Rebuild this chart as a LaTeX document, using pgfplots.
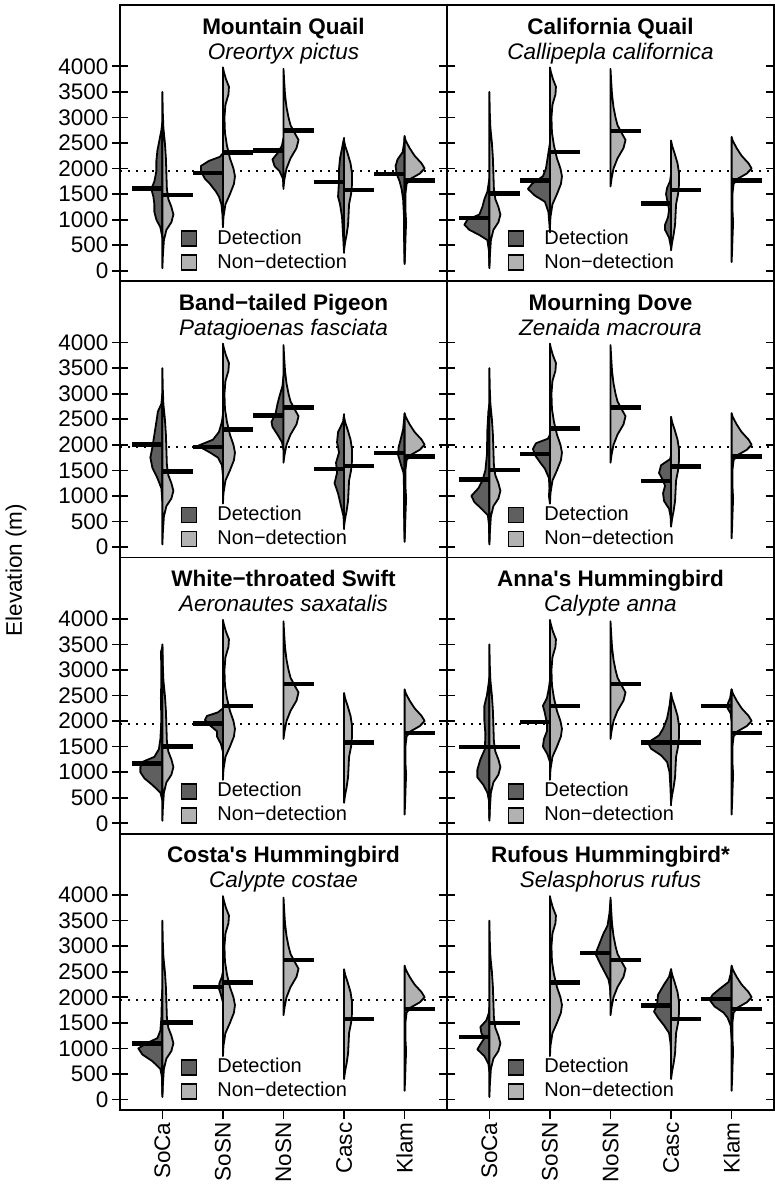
\documentclass[border=0pt]{standalone}
\usepackage{fontspec}
\setmainfont{Liberation Sans}
\newfontfamily\plain{Liberation Sans}
\usepackage{pgfplots}
\usepackage{pgfplotstable}
\pgfplotsset{compat=1.18}
\definecolor{dk}{HTML}{5F5F5F}
\definecolor{lt}{HTML}{B2B2B2}
\newcommand{\fs}{\fontsize{22.5bp}{27bp}\selectfont}
\newcommand{\fl}{\fontsize{20bp}{24bp}\selectfont}
% ---------- non-detection (shared per region) : elevation e, half-width w (px)
\pgfplotstableread[row sep=\\]{e w\\ 50 0\\ 300 0.5\\ 600 1.5\\ 800 4\\ 950 9\\ 1100 11\\ 1250 9\\ 1400 6\\ 1600 4.5\\ 1900 4\\ 2200 3.5\\ 2500 2.5\\ 2800 1\\ 3100 0.4\\ 3500 0\\}\ndA
\pgfplotstableread[row sep=\\]{e w\\ 850 0\\ 1050 0.5\\ 1300 2.5\\ 1500 7\\ 1700 11\\ 1850 12\\ 2000 10.5\\ 2200 7\\ 2450 4\\ 2700 2\\ 3000 1.5\\ 3250 2.5\\ 3450 5.5\\ 3600 6\\ 3750 3\\ 3900 0.8\\ 3980 0\\}\ndB
\pgfplotstableread[row sep=\\]{e w\\ 1650 0\\ 1800 1\\ 2000 3\\ 2200 7\\ 2400 13\\ 2560 15\\ 2700 11\\ 2850 7\\ 3000 5\\ 3200 3\\ 3450 1.5\\ 3700 0.7\\ 3950 0\\}\ndC
\pgfplotstableread[row sep=\\]{e w\\ 400 0\\ 550 1\\ 700 2.5\\ 900 4\\ 1100 4.5\\ 1300 5\\ 1500 7\\ 1700 8\\ 1900 8\\ 2100 6.5\\ 2300 3.5\\ 2450 1\\ 2550 0\\}\ndD
\pgfplotstableread[row sep=\\]{e w\\ 170 0\\ 400 0.5\\ 700 1\\ 950 1.5\\ 1200 0.8\\ 1500 0.8\\ 1700 2\\ 1800 6\\ 1900 15\\ 2000 20\\ 2100 17\\ 2250 10\\ 2400 5\\ 2550 1\\ 2620 0\\}\ndE
% ---------- detection
\pgfplotstableread[row sep=\\]{e w\\ 650 0\\ 850 2\\ 1000 6\\ 1150 8\\ 1300 8\\ 1450 9\\ 1600 11\\ 1750 8\\ 1950 6\\ 2150 6\\ 2350 5\\ 2550 3\\ 2750 1\\ 2900 0\\}\mqA
\pgfplotstableread[row sep=\\]{e w\\ 880 0\\ 1100 0.5\\ 1300 1.5\\ 1450 4\\ 1550 7\\ 1700 13\\ 1800 18\\ 1950 22\\ 2050 22\\ 2150 14\\ 2230 3\\ 2300 0\\}\mqB
\pgfplotstableread[row sep=\\]{e w\\ 1600 0\\ 1800 0.5\\ 1950 4\\ 2050 9\\ 2180 11\\ 2300 6\\ 2450 1.5\\ 2600 0\\}\mqC
\pgfplotstableread[row sep=\\]{e w\\ 350 0\\ 700 1\\ 1050 2\\ 1300 4\\ 1450 6\\ 1600 5.5\\ 1800 5\\ 2000 5\\ 2200 4\\ 2400 2\\ 2600 0\\}\mqD
\pgfplotstableread[row sep=\\]{e w\\ 130 0\\ 600 0.5\\ 1100 0.7\\ 1400 1.5\\ 1600 3\\ 1750 5\\ 1900 8\\ 2050 9\\ 2180 7\\ 2320 2\\ 2500 0.5\\ 2640 0\\}\mqE
\pgfplotstableread[row sep=\\]{e w\\ 100 0\\ 400 0.5\\ 600 2\\ 700 10\\ 800 20\\ 900 25\\ 1000 22\\ 1100 10\\ 1250 7\\ 1400 5\\ 1550 2\\ 1800 0\\}\cqA
\pgfplotstableread[row sep=\\]{e w\\ 750 0\\ 900 0.5\\ 1150 1.5\\ 1350 5\\ 1470 15\\ 1600 22\\ 1700 18\\ 1850 7\\ 2000 4\\ 2250 2\\ 2500 0\\}\cqB
\pgfplotstableread[row sep=\\]{e w\\ 450 0\\ 650 2\\ 800 6\\ 900 6\\ 1050 3\\ 1200 2\\ 1350 3.5\\ 1500 5\\ 1620 4\\ 1750 1\\ 1900 0\\}\cqD
\pgfplotstableread[row sep=\\]{e w\\ 900 0\\ 1150 1\\ 1350 5\\ 1550 10\\ 1750 12\\ 1950 10\\ 2200 8\\ 2450 6\\ 2650 4.5\\ 2800 1\\ 3000 0\\}\btA
\pgfplotstableread[row sep=\\]{e w\\ 1400 0\\ 1600 1\\ 1750 5\\ 1850 13\\ 1980 25\\ 2100 10\\ 2250 4\\ 2450 1\\ 2600 0\\}\btB
\pgfplotstableread[row sep=\\]{e w\\ 1900 0\\ 2050 1.5\\ 2200 6\\ 2350 11\\ 2450 12\\ 2600 8\\ 2800 6\\ 2950 4\\ 3150 1\\ 3350 0\\}\btC
\pgfplotstableread[row sep=\\]{e w\\ 350 0\\ 600 0.5\\ 800 3\\ 1050 6\\ 1250 9.5\\ 1450 7\\ 1650 8\\ 1850 5\\ 2050 7\\ 2250 6\\ 2450 1\\ 2600 0\\}\btD
\pgfplotstableread[row sep=\\]{e w\\ 100 0\\ 600 0.5\\ 1200 0.7\\ 1450 1\\ 1600 3.5\\ 1800 6.5\\ 1950 6\\ 2100 4\\ 2300 1.5\\ 2600 0\\}\btE
\pgfplotstableread[row sep=\\]{e w\\ 100 0\\ 450 0.5\\ 620 1.5\\ 750 8\\ 880 15\\ 1000 18\\ 1150 11\\ 1300 7\\ 1500 4\\ 1800 2.5\\ 2300 2\\ 2650 1\\ 2800 0\\}\mdA
\pgfplotstableread[row sep=\\]{e w\\ 850 0\\ 1000 1\\ 1150 0.5\\ 1350 1\\ 1530 5\\ 1660 10\\ 1800 15\\ 1920 17\\ 2030 14\\ 2120 2\\ 2200 0\\}\mdB
\pgfplotstableread[row sep=\\]{e w\\ 400 0\\ 600 0.5\\ 750 2\\ 900 7\\ 1050 8\\ 1200 6\\ 1300 8\\ 1450 12\\ 1600 10\\ 1720 1\\ 1800 0\\}\mdD
\pgfplotstableread[row sep=\\]{e w\\ 450 0\\ 600 2\\ 750 10\\ 880 18\\ 1000 22\\ 1100 22\\ 1200 20\\ 1300 8\\ 1450 3.5\\ 1650 2\\ 2000 1\\ 2450 1.5\\ 2800 1\\ 3050 1\\ 3350 1.5\\ 3450 0\\}\wsA
\pgfplotstableread[row sep=\\]{e w\\ 1400 0\\ 1550 2\\ 1700 6\\ 1800 6\\ 1900 12\\ 2020 18\\ 2100 16\\ 2170 5\\ 2250 0\\}\wsB
\pgfplotstableread[row sep=\\]{e w\\ 100 0\\ 450 0.5\\ 600 2\\ 750 6\\ 900 12\\ 1050 12\\ 1250 9\\ 1450 4.5\\ 1750 4\\ 2000 5\\ 2300 5\\ 2500 2.5\\ 2700 1\\ 2850 0\\}\ahA
\pgfplotstableread[row sep=\\]{e w\\ 1200 0\\ 1350 2.5\\ 1500 7\\ 1650 6\\ 1800 3\\ 1950 3\\ 2150 5\\ 2300 7\\ 2450 3\\ 2650 1\\ 2800 0\\}\ahB
\pgfplotstableread[row sep=\\]{e w\\ 350 0\\ 650 0.5\\ 1000 1.5\\ 1200 4\\ 1330 10\\ 1460 20\\ 1580 23\\ 1720 12\\ 1850 8\\ 2050 4\\ 2300 1.5\\ 2550 0\\}\ahD
\pgfplotstableread[row sep=\\]{e w\\ 2000 0\\ 2150 1\\ 2250 4\\ 2330 4\\ 2450 1.5\\ 2620 0\\}\ahE
\pgfplotstableread[row sep=\\]{e w\\ 100 0\\ 450 0.5\\ 600 2\\ 750 10\\ 880 20\\ 1000 24\\ 1100 16\\ 1200 5\\ 1350 2\\ 1600 1\\ 2000 0.5\\ 2150 0\\}\chA
\pgfplotstableread[row sep=\\]{e w\\ 1900 0\\ 2050 2\\ 2170 4\\ 2280 3.5\\ 2400 1\\ 2500 0\\}\chB
\pgfplotstableread[row sep=\\]{e w\\ 550 0\\ 700 1\\ 850 5\\ 980 12\\ 1080 9\\ 1200 5\\ 1300 8\\ 1420 9\\ 1550 3\\ 1700 0.5\\ 1800 0\\}\rhA
\pgfplotstableread[row sep=\\]{e w\\ 2000 0\\ 2200 0.5\\ 2350 2\\ 2500 6\\ 2650 10\\ 2850 15\\ 3050 11\\ 3250 7\\ 3400 3\\ 3650 1\\ 3900 0\\}\rhC
\pgfplotstableread[row sep=\\]{e w\\ 900 0\\ 1100 0.5\\ 1300 2\\ 1450 7\\ 1600 13\\ 1720 17\\ 1850 14\\ 2050 13\\ 2250 7\\ 2400 2\\ 2550 0\\}\rhD
\pgfplotstableread[row sep=\\]{e w\\ 1200 0\\ 1450 1\\ 1600 4\\ 1700 8\\ 1820 17\\ 1950 22\\ 2050 19\\ 2180 11\\ 2300 3\\ 2450 1\\ 2600 0\\}\rhE

\newcommand{\vD}[2]{\addplot[fill=dk, draw=black, line width=1.8bp, line join=round, forget plot] table[x expr={#1-\thisrow{w}/60.5}, y=e]{#2} -- cycle;}
\newcommand{\vN}[2]{\addplot[fill=lt, draw=black, line width=1.8bp, line join=round, forget plot] table[x expr={#1+\thisrow{w}/60.5}, y=e]{#2} -- cycle;}
\newcommand{\med}[3]{\addplot[black, line width=4.5bp, forget plot] coordinates {(#1,#3) (#2,#3)};}
\newcommand{\dotl}{\addplot[black, line width=1.8bp, dash pattern=on 1.8bp off 6.2bp, forget plot] coordinates {(0.3,1950) (5.7,1950)};}
\newcommand{\leg}{\addlegendimage{fill=dk}\addlegendentry{Detection}\addlegendimage{fill=lt}\addlegendentry{Non−detection}}
\newcommand{\ttl}[2]{\node[font=\fs\bfseries, anchor=base, yshift=-29bp] at (rel axis cs:0.5,1) {#1};
\node[font=\fs\itshape, anchor=base, yshift=-54bp] at (rel axis cs:0.5,1) {#2};}

\pgfplotsset{
 panel/.style={scale only axis, width=327bp, height=276.25bp, anchor=south west,
  xmin=0.3, xmax=5.7, ymin=-205, ymax=5200, xtick=\empty,
  ytick={0,500,1000,1500,2000,2500,3000,3500,4000},
  yticklabels={0,500,1000,1500,2000,2500,3000,3500,4000},
  ytick pos=both, tick align=center, major tick length=16bp,
  axis line style={line width=1.9bp}, ytick style={line width=1.7bp, black},
  yticklabel style={font=\fs},
  legend image code/.code={\draw[##1, line width=1.6bp] (0bp,-7.5bp) rectangle (15bp,7.5bp);},
  legend style={at={(axis cs:1.30,817)}, anchor=north west, draw=none, fill=none,
   font=\fl, inner sep=0pt, row sep=5bp,
   nodes={inner sep=0pt, text height=15bp, text depth=4bp},
   /tikz/every odd column/.append style={column sep=20bp}},
  legend cell align=left},
 rpanel/.style={panel, yticklabels={}},
 xt/.style={scale only axis, width=327bp, height=276.25bp, anchor=south west,
  xmin=0.3, xmax=5.7, ymin=0, ymax=1, axis line style={draw=none}, ytick=\empty,
  xtick={1,2,3,4,5}, xticklabels={SoCa,SoSN,NoSN,Casc,Klam}, xtick pos=left,
  tick align=outside, major tick length=9bp, xtick style={line width=1.7bp, black},
  xticklabel style={rotate=90, anchor=east, font=\fs}},
}

\begin{document}
\begin{tikzpicture}
\useasboundingbox (0,0) rectangle (775bp,-1192bp);
\node[rotate=90, font=\fs, anchor=center] at (16bp,-570bp) {Elevation (m)};
% ---- Mountain Quail
\begin{axis}[panel, at={(120bp,-281.25bp)}]
\dotl
\vD{1}{\mqA}\vN{1}{\ndA}\vD{2}{\mqB}\vN{2}{\ndB}\vD{3}{\mqC}\vN{3}{\ndC}\vD{4}{\mqD}\vN{4}{\ndD}\vD{5}{\mqE}\vN{5}{\ndE}
\med{0.5}{1}{1610}\med{1}{1.5}{1480}\med{1.5}{2}{1910}\med{2}{2.5}{2310}\med{2.5}{3}{2350}\med{3}{3.5}{2740}\med{3.5}{4}{1740}\med{4}{4.5}{1580}\med{4.5}{5}{1890}\med{5}{5.5}{1770}
\leg
\ttl{Mountain Quail}{Oreortyx pictus}
\end{axis}
% ---- California Quail
\begin{axis}[rpanel, at={(447bp,-281.25bp)}]
\dotl
\vD{1}{\cqA}\vN{1}{\ndA}\vD{2}{\cqB}\vN{2}{\ndB}\vN{3}{\ndC}\vD{4}{\cqD}\vN{4}{\ndD}\vN{5}{\ndE}
\med{0.5}{1}{1030}\med{1}{1.5}{1510}\med{1.5}{2}{1770}\med{2}{2.5}{2320}\med{3}{3.5}{2730}\med{3.5}{4}{1320}\med{4}{4.5}{1580}\med{5}{5.5}{1770}
\leg
\ttl{California Quail}{Callipepla californica}
\end{axis}
% ---- Band-tailed Pigeon
\begin{axis}[panel, at={(120bp,-557.5bp)}]
\dotl
\vD{1}{\btA}\vN{1}{\ndA}\vD{2}{\btB}\vN{2}{\ndB}\vD{3}{\btC}\vN{3}{\ndC}\vD{4}{\btD}\vN{4}{\ndD}\vD{5}{\btE}\vN{5}{\ndE}
\med{0.5}{1}{2010}\med{1}{1.5}{1480}\med{1.5}{2}{1960}\med{2}{2.5}{2300}\med{2.5}{3}{2570}\med{3}{3.5}{2730}\med{3.5}{4}{1530}\med{4}{4.5}{1590}\med{4.5}{5}{1840}\med{5}{5.5}{1770}
\leg
\ttl{Band−tailed Pigeon}{Patagioenas fasciata}
\end{axis}
% ---- Mourning Dove
\begin{axis}[rpanel, at={(447bp,-557.5bp)}]
\dotl
\vD{1}{\mdA}\vN{1}{\ndA}\vD{2}{\mdB}\vN{2}{\ndB}\vN{3}{\ndC}\vD{4}{\mdD}\vN{4}{\ndD}\vN{5}{\ndE}
\med{0.5}{1}{1320}\med{1}{1.5}{1510}\med{1.5}{2}{1820}\med{2}{2.5}{2320}\med{3}{3.5}{2730}\med{3.5}{4}{1290}\med{4}{4.5}{1580}\med{5}{5.5}{1770}
\leg
\ttl{Mourning Dove}{Zenaida macroura}
\end{axis}
% ---- White-throated Swift
\begin{axis}[panel, at={(120bp,-833.75bp)}]
\dotl
\vD{1}{\wsA}\vN{1}{\ndA}\vD{2}{\wsB}\vN{2}{\ndB}\vN{3}{\ndC}\vN{4}{\ndD}\vN{5}{\ndE}
\med{0.5}{1}{1170}\med{1}{1.5}{1500}\med{1.5}{2}{1950}\med{2}{2.5}{2290}\med{3}{3.5}{2730}\med{4}{4.5}{1580}\med{5}{5.5}{1770}
\leg
\ttl{White−throated Swift}{Aeronautes saxatalis}
\end{axis}
% ---- Anna's Hummingbird
\begin{axis}[rpanel, at={(447bp,-833.75bp)}]
\dotl
\vD{1}{\ahA}\vN{1}{\ndA}\vD{2}{\ahB}\vN{2}{\ndB}\vN{3}{\ndC}\vD{4}{\ahD}\vN{4}{\ndD}\vD{5}{\ahE}\vN{5}{\ndE}
\med{0.5}{1}{1490}\med{1}{1.5}{1490}\med{1.5}{2}{1980}\med{2}{2.5}{2290}\med{3}{3.5}{2730}\med{3.5}{4}{1580}\med{4}{4.5}{1580}\med{4.5}{5}{2290}\med{5}{5.5}{1770}
\leg
\ttl{Anna{\plain '}s Hummingbird}{Calypte anna}
\end{axis}
% ---- Costa's Hummingbird
\begin{axis}[panel, at={(120bp,-1110bp)}]
\dotl
\vD{1}{\chA}\vN{1}{\ndA}\vD{2}{\chB}\vN{2}{\ndB}\vN{3}{\ndC}\vN{4}{\ndD}\vN{5}{\ndE}
\med{0.5}{1}{1100}\med{1}{1.5}{1510}\med{1.5}{2}{2200}\med{2}{2.5}{2290}\med{3}{3.5}{2730}\med{4}{4.5}{1580}\med{5}{5.5}{1770}
\leg
\ttl{Costa{\plain '}s Hummingbird}{Calypte costae}
\end{axis}
\begin{axis}[xt, at={(120bp,-1110bp)}]
\addplot[draw=none] coordinates {(1,0.5)};
\end{axis}
% ---- Rufous Hummingbird
\begin{axis}[rpanel, at={(447bp,-1110bp)}]
\dotl
\vD{1}{\rhA}\vN{1}{\ndA}\vN{2}{\ndB}\vD{3}{\rhC}\vN{3}{\ndC}\vD{4}{\rhD}\vN{4}{\ndD}\vD{5}{\rhE}\vN{5}{\ndE}
\med{0.5}{1}{1220}\med{1}{1.5}{1500}\med{2}{2.5}{2290}\med{2.5}{3}{2870}\med{3}{3.5}{2730}\med{3.5}{4}{1840}\med{4}{4.5}{1580}\med{4.5}{5}{1970}\med{5}{5.5}{1770}
\leg
\ttl{Rufous Hummingbird*}{Selasphorus rufus}
\end{axis}
\begin{axis}[xt, at={(447bp,-1110bp)}]
\addplot[draw=none] coordinates {(1,0.5)};
\end{axis}
\end{tikzpicture}
\end{document}
